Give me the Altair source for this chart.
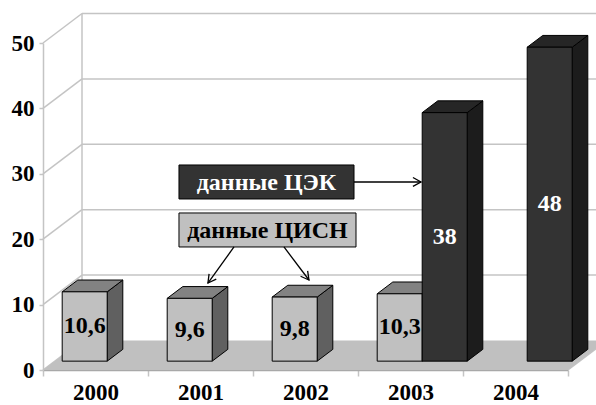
import math
import altair as alt
import pandas as pd

# ---------------- data ----------------
years = ["2000", "2001", "2002", "2003", "2004"]
cisn_values = [10.6, 9.6, 9.8, 10.3, None]   # данные ЦИСН (grey)
cek_values = [None, None, None, 38, 48]      # данные ЦЭК (dark)
y_ticks = [0, 10, 20, 30, 40, 50]
series_keys = ["cisn", "cek"]
series_names = ["данные ЦИСН", "данные ЦЭК"]

# annotation boxes / arrows (data units: x = category index, y = value)
box_names = ["данные ЦЭК", "данные ЦИСН"]
box_keys = ["cek", "cisn"]
box_x0 = [1.295, 1.295]
box_x1 = [2.962, 2.981]
box_y0 = [31.35, 24.01]
box_y1 = [26.15, 18.81]
arrow_x0 = [2.962, 1.819, 2.295]
arrow_y0 = [28.75, 18.81, 18.81]
arrow_x1 = [3.600, 1.571, 2.533]
arrow_y1 = [28.75, 13.30, 13.76]

# ---------------- geometry ----------------
PX_X = 105.0      # pixels per category
PX_Y = 6.54       # pixels per value unit
W, H = 525, 327
DEPTH_DX = 39 / PX_X
DEPTH_DY = 29.5 / PX_Y
BAR_Z0, BAR_Z1 = 0.3, 0.7
SLOT = 45 / PX_X

FONT = "Liberation Serif"
GRID = "#c4c4c4"

xs = alt.Scale(domain=[0, 5], nice=False, zero=False)
ys = alt.Scale(domain=[0, 50], nice=False, zero=False)

front_col = {"cisn": "#c0c0c0", "cek": "#333333"}
side_col = {"cisn": "#606060", "cek": "#1c1c1c"}
top_col = {"cisn": "#828282", "cek": "#262626"}
text_col = {"cisn": "black", "cek": "white"}


def fmt(v):
    return f"{v:g}".replace(".", ",")


front, side, top, labels = [], [], [], []
zx0, zy0 = DEPTH_DX * BAR_Z0, DEPTH_DY * BAR_Z0
ddx, ddy = DEPTH_DX * (BAR_Z1 - BAR_Z0), DEPTH_DY * (BAR_Z1 - BAR_Z0)
for s, vals in zip(series_keys, [cisn_values, cek_values]):
    for i, v in enumerate(vals):
        if v is None:
            continue
        bid = f"{s}-{i}"
        c = i + 0.5 + zx0
        xl = c - SLOT if s == "cisn" else c
        xr = xl + SLOT
        yb, yt = zy0, zy0 + v
        front.append(dict(bar=bid, s=s, x=xl, x2=xr, y=yb, y2=yt))
        side += [dict(bar=bid, s=s, x=xr, y=yt, y2=yb),
                 dict(bar=bid, s=s, x=xr + ddx, y=yt + ddy, y2=yb + ddy)]
        top += [dict(bar=bid, s=s, y=yt, x=xl, x2=xr),
                dict(bar=bid, s=s, y=yt + ddy, x=xl + ddx, x2=xr + ddx)]
        labels.append(dict(s=s, x=(xl + xr) / 2, y=(yb + yt) / 2, text=fmt(v)))

front_df = pd.DataFrame(front)
side_df = pd.DataFrame(side)
top_df = pd.DataFrame(top)
labels_df = pd.DataFrame(labels)

# walls
floor_df = pd.DataFrame([dict(y=0, x=0, x2=5), dict(y=DEPTH_DY, x=DEPTH_DX, x2=5 + DEPTH_DX)])
back_grid = pd.DataFrame([dict(x=DEPTH_DX, x2=5 + DEPTH_DX, y=v + DEPTH_DY, y2=v + DEPTH_DY) for v in y_ticks[1:]])
side_grid = pd.DataFrame([dict(x=0, x2=DEPTH_DX, y=v, y2=v + DEPTH_DY) for v in y_ticks]
                         + [dict(x=DEPTH_DX, x2=DEPTH_DX, y=DEPTH_DY, y2=y_ticks[-1] + DEPTH_DY)]
                         + [dict(x=5, x2=5 + DEPTH_DX, y=0, y2=DEPTH_DY)])

label_expr = "datum.value % 1 === 0 ? '' : " + str(years) + "[floor(datum.value)]"

x_axis = alt.Axis(values=[k / 2 for k in range(11)], grid=False, title=None, labelExpr=label_expr,
                  labelOverlap=False, labelFlush=False, domainColor="#a8a8a8", domainWidth=1.5,
                  tickColor=GRID, tickSize=6, tickWidth=1.5,
                  tickOpacity={"condition": {"test": "datum.value % 1 === 0", "value": 1}, "value": 0},
                  labelFont=FONT, labelFontWeight="bold", labelFontSize=23, labelColor="black",
                  labelPadding=5, orient="bottom")
y_axis = alt.Axis(values=y_ticks, grid=False, title=None, domainColor=GRID, domainWidth=1.5,
                  tickColor=GRID, tickSize=4, tickWidth=1.5, labelFont=FONT, labelFontWeight="bold",
                  labelFontSize=23, labelColor="black", labelPadding=5, orient="left")


def X(f="x", **kw):
    return alt.X(f"{f}:Q", scale=xs, axis=x_axis, **kw)


def Y(f="y", **kw):
    return alt.Y(f"{f}:Q", scale=ys, axis=y_axis, **kw)


floor = alt.Chart(floor_df).mark_area(orient="horizontal", color="#c0c0c0").encode(
    y=Y(), x=X(stack=None), x2="x2:Q")

back_lines = alt.Chart(back_grid).mark_rule(color=GRID, strokeWidth=1.5).encode(
    x=X(), x2="x2:Q", y=Y(), y2="y2:Q")
side_lines = alt.Chart(side_grid).mark_rule(color=GRID, strokeWidth=1.5).encode(
    x=X(), x2="x2:Q", y=Y(), y2="y2:Q")


def bar_layers(s):
    sd = side_df[side_df.s == s]
    td = top_df[top_df.s == s]
    fd = front_df[front_df.s == s]
    sl = alt.Chart(sd).mark_area(fill=side_col[s], stroke="black", strokeWidth=1).encode(
        x=X(), y=Y(stack=None), y2="y2:Q", detail="bar:N")
    tl = alt.Chart(td).mark_area(orient="horizontal", fill=top_col[s], stroke="black", strokeWidth=1).encode(
        y=Y(), x=X(stack=None), x2="x2:Q", detail="bar:N")
    fl = alt.Chart(fd).mark_rect(fill=front_col[s], stroke="black", strokeWidth=1).encode(
        x=X(), x2="x2:Q", y=Y(), y2="y2:Q")
    return [sl, tl, fl]


label_layer = alt.Chart(labels_df).mark_text(font=FONT, fontWeight="bold", fontSize=24).encode(
    x=X(), y=Y(), text="text:N",
    color=alt.Color("s:N", scale=alt.Scale(domain=series_keys, range=[text_col[k] for k in series_keys]),
                    legend=None))

boxes_df = pd.DataFrame(dict(name=box_names, s=box_keys, x=box_x0, x2=box_x1, y=box_y0, y2=box_y1))
boxes_df["cx"] = (boxes_df.x + boxes_df.x2) / 2
boxes_df["cy"] = (boxes_df.y + boxes_df.y2) / 2
box_layer = alt.Chart(boxes_df).mark_rect(stroke="black", strokeWidth=1).encode(
    x=X(), x2="x2:Q", y=Y(), y2="y2:Q",
    fill=alt.Fill("s:N", scale=alt.Scale(domain=series_keys, range=[front_col[k] for k in series_keys]),
                  legend=None))
box_text = alt.Chart(boxes_df).mark_text(font=FONT, fontWeight="bold", fontSize=24, dy=1).encode(
    x=X("cx"), y=Y("cy"), text="name:N",
    color=alt.Color("s:N", scale=alt.Scale(domain=series_keys, range=[text_col[k] for k in series_keys]),
                    legend=None))

arrows_df = pd.DataFrame(dict(x=arrow_x0, y=arrow_y0, x2=arrow_x1, y2=arrow_y1))
arrows_df["angle"] = [
    math.degrees(math.atan2(-(b - a) * PX_Y, (d - c) * PX_X)) % 360
    for a, b, c, d in zip(arrow_y0, arrow_y1, arrow_x0, arrow_x1)
]
arrow_lines = alt.Chart(arrows_df).mark_rule(color="black", strokeWidth=1.3).encode(
    x=X(), x2="x2:Q", y=Y(), y2="y2:Q")
arrow_heads = alt.Chart(arrows_df).mark_point(
    shape="M -1 -0.55 L 0 0 L -1 0.55", filled=False, stroke="black", strokeWidth=1.3, size=260, opacity=1
).encode(x=X("x2"), y=Y("y2"), angle=alt.Angle("angle:Q", scale=None))

layers = [side_lines, back_lines, floor] + bar_layers("cisn") + bar_layers("cek") + [
    label_layer, box_layer, box_text, arrow_lines, arrow_heads]

chart = alt.layer(*layers).properties(
    width=W, height=H,
    autosize=alt.AutoSizeParams(type="none"),
    padding={"left": 43, "top": 43, "right": 28, "bottom": 35},
).configure_view(strokeWidth=0)

chart.save("out.html", embed_options={"renderer": "svg", "actions": False})
